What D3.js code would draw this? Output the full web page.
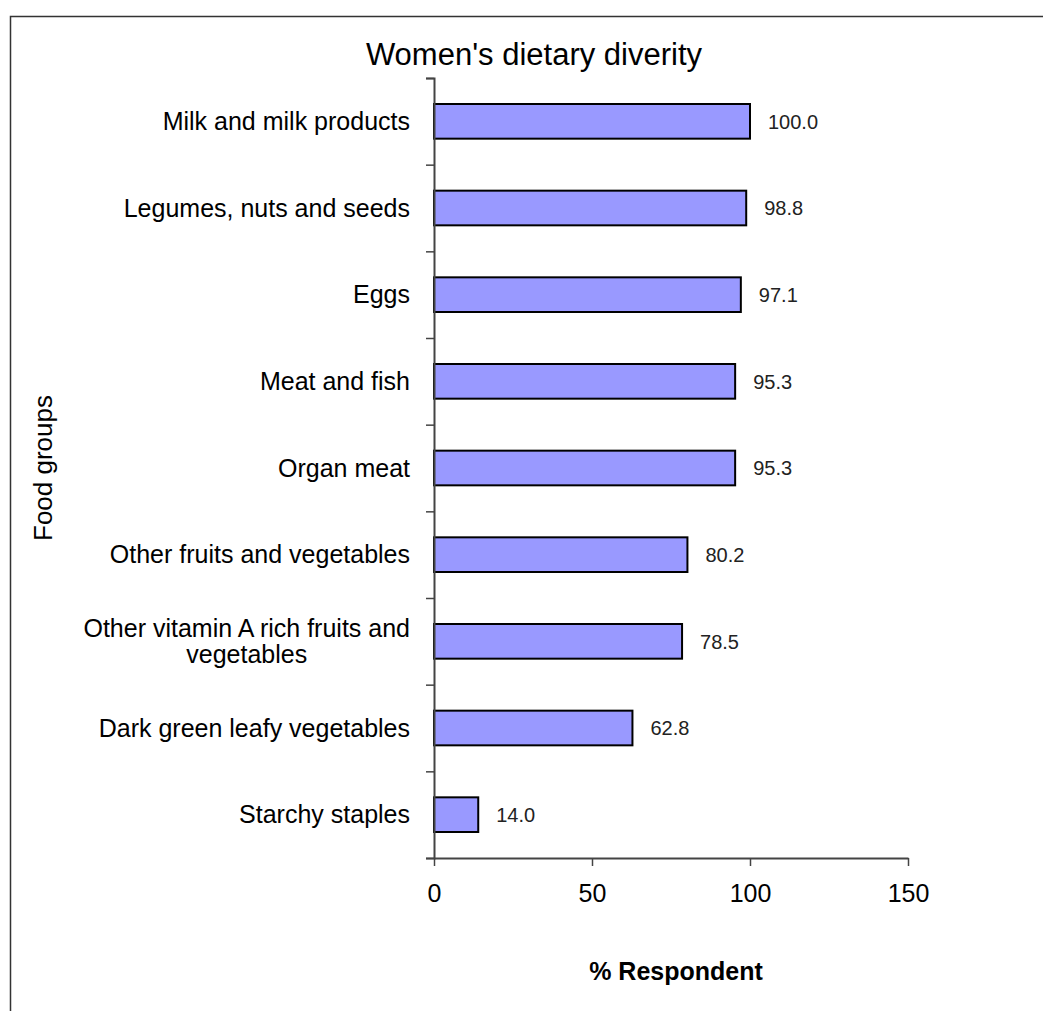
<!DOCTYPE html>
<html>
<head>
<meta charset="utf-8">
<script src="https://cdn.jsdelivr.net/npm/d3@7"></script>
<style>
  html, body { margin: 0; padding: 0; background: #fff; }
  svg { display: block; font-family: "Liberation Sans", Arial, sans-serif; }
</style>
</head>
<body>
<svg id="chart" width="1043" height="1011"></svg>
<script>
// Food groups, top to bottom, with share of respondents (%)
const categories = [
  "Milk and milk products",
  "Legumes, nuts and seeds",
  "Eggs",
  "Meat and fish",
  "Organ meat",
  "Other fruits and vegetables",
  "Other vitamin A rich fruits and|vegetables",
  "Dark green leafy vegetables",
  "Starchy staples"
];
const values = [100.0, 98.8, 97.1, 95.3, 95.3, 80.2, 78.5, 62.8, 14.0];
const xTicks = [0, 50, 100, 150];

const svg = d3.select("#chart");

// outer frame (runs off the right and bottom edges)
svg.append("rect")
  .attr("x", 10.5).attr("y", 16.5)
  .attr("width", 1100).attr("height", 1100)
  .attr("fill", "none").attr("stroke", "#333").attr("stroke-width", 1.5);

const plot = { left: 434, right: 908, top: 78, bottom: 858 };

const x = d3.scaleLinear().domain([0, 150]).range([plot.left, plot.right]);
const y = d3.scaleBand().domain(categories)
  .range([plot.top, plot.bottom])
  .paddingInner(0.6).paddingOuter(0.3);
// band boundaries for the category tick marks
const yEdges = d3.scaleLinear().domain([0, categories.length]).range([plot.top, plot.bottom]);

// title
svg.append("text")
  .attr("x", 534).attr("y", 65)
  .attr("text-anchor", "middle")
  .attr("font-size", 31)
  .attr("fill", "#000")
  .text("Women's dietary diverity");

// bars
svg.append("g").selectAll("rect")
  .data(categories)
  .join("rect")
  .attr("x", x(0))
  .attr("y", d => y(d))
  .attr("width", (d, i) => x(values[i]) - x(0))
  .attr("height", y.bandwidth())
  .attr("fill", "#9999ff")
  .attr("stroke", "#000")
  .attr("stroke-width", 2);

// value labels
svg.append("g").selectAll("text")
  .data(categories)
  .join("text")
  .attr("x", (d, i) => x(values[i]) + 18)
  .attr("y", d => y(d) + y.bandwidth() / 2)
  .attr("dy", "0.36em")
  .attr("font-size", 20)
  .attr("fill", "#222")
  .text((d, i) => d3.format(".1f")(values[i]));

// y axis with tick marks at band edges
const yAxisG = svg.append("g")
  .attr("transform", `translate(${plot.left},0)`)
  .call(d3.axisLeft(yEdges).ticks(categories.length).tickValues(d3.range(categories.length + 1))
    .tickSize(8).tickFormat(""));
yAxisG.select(".domain").attr("stroke", "#444").attr("stroke-width", 2);
yAxisG.selectAll(".tick line").attr("stroke", "#444").attr("stroke-width", 1.5);

// category labels (multi-line where split by |)
const catG = svg.append("g");
categories.forEach(c => {
  const lines = c.split("|");
  const cy = y(c) + y.bandwidth() / 2;
  if (lines.length === 1) {
    catG.append("text")
      .attr("x", 410).attr("y", cy)
      .attr("dy", "0.35em")
      .attr("text-anchor", "end")
      .attr("font-size", 25)
      .attr("fill", "#000")
      .text(lines[0]);
  } else {
    const t = catG.append("text")
      .attr("font-size", 25)
      .attr("fill", "#000")
      .attr("text-anchor", "middle");
    const l1 = t.append("tspan").attr("y", cy - 4.5).text(lines[0]);
    const w = l1.node().getComputedTextLength();
    const cx = 410 - w / 2;
    l1.attr("x", cx);
    t.append("tspan").attr("x", cx).attr("y", cy + 22).text(lines[1]);
  }
});

// x axis
const xAxisG = svg.append("g")
  .attr("transform", `translate(0,${plot.bottom})`)
  .call(d3.axisBottom(x).tickValues(xTicks).tickSize(8).tickPadding(18).tickSizeOuter(0));
xAxisG.select(".domain").attr("stroke", "#444").attr("stroke-width", 2);
xAxisG.selectAll(".tick line").attr("stroke", "#444").attr("stroke-width", 1.5);
xAxisG.selectAll(".tick text")
  .attr("font-size", 25)
  .attr("font-family", "'Liberation Sans', Arial, sans-serif")
  .attr("fill", "#000");

// axis titles
svg.append("text")
  .attr("x", 676).attr("y", 980)
  .attr("text-anchor", "middle")
  .attr("font-size", 25)
  .attr("font-weight", "bold")
  .attr("fill", "#000")
  .text("% Respondent");

svg.append("text")
  .attr("transform", `translate(52,${(plot.top + plot.bottom) / 2}) rotate(-90)`)
  .attr("text-anchor", "middle")
  .attr("font-size", 26)
  .attr("fill", "#000")
  .text("Food groups");
</script>
</body>
</html>
